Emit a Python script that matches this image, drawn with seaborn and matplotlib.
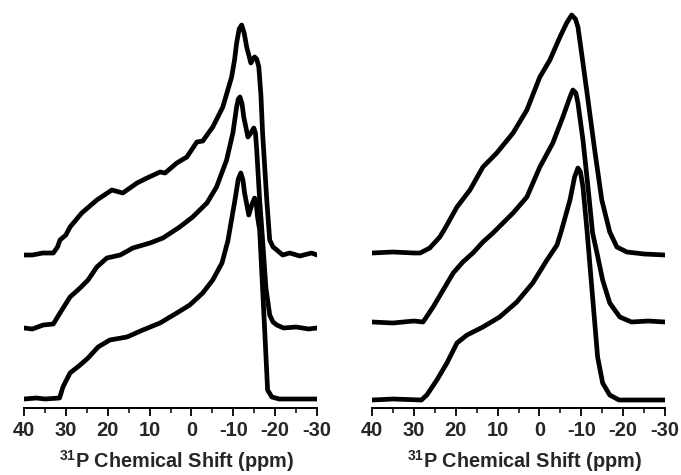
import numpy as np
import pandas as pd
import matplotlib
matplotlib.use("Agg")
import matplotlib.pyplot as plt
import seaborn as sns
from matplotlib.ticker import MultipleLocator

sns.set_theme(style="white")
plt.rcParams['font.family'] = ['Liberation Sans', 'DejaVu Sans']
plt.rcParams['mathtext.fontset'] = 'custom'
plt.rcParams['mathtext.rm'] = 'Liberation Sans:bold'
plt.rcParams['mathtext.bf'] = 'Liberation Sans:bold'

# ---- Left panel spectra (ppm, intensity) ----
left_top_ppm = [40, 38, 35.5, 33, 32, 31.4, 30, 29, 26.2, 22.6, 19, 16.4, 13, 10.6, 7.5, 6.3, 3.5, 1.1,
                -1.3, -2.7, -5.1, -7.5, -9.6, -10.3, -10.8, -11.4, -12, -12.6, -13.2, -14.2, -14.7,
                -15.1, -15.6, -16.1, -16.6, -17, -18, -18.7, -19.5,
                -20.4, -21.8, -23.5, -25.9, -28.7, -30]
left_top_int = [0, 0, 2, 2, 8, 15, 20, 28, 42, 55, 65, 62, 72, 77, 83, 82, 92, 98,
                113, 114, 128, 148, 178, 195, 212, 226, 230, 222, 208, 192, 196,
                198, 196, 188, 160, 122, 55, 15, 8,
                5, 0, 2, -1, 2, 0]

left_mid_ppm = [40, 38, 35.4, 33, 31.4, 29, 26.6, 24.7, 22.6, 20.2, 17, 14, 9.9, 6.8, 2.8, -0.3,
                -3.7, -6, -8.4, -9.9, -10.8, -11.2, -11.6, -12.1, -12.5, -13.5, -14.2, -14.9, -15.3,
                -15.6, -16.3, -17, -17.8, -18.7, -19.5, -20.4, -22, -25, -28, -30]
left_mid_int = [0, -1, 3, 4, 15, 31, 40, 48, 61, 70, 73, 80, 85, 90, 101, 111,
                125, 141, 168, 195, 221, 229, 231, 224, 211, 191, 195, 200, 195,
                178, 128, 88, 40, 13, 6, 3, 0, 1, -1, 0]

left_bot_ppm = [40, 37, 35, 31.5, 30.7, 29, 26.6, 24.7, 22.3, 19.5, 15.4, 11.6, 7.5, 3.5, 0.4,
                -2.7, -5.1, -7.3, -8.7, -10.4, -11.2, -11.8, -12.3, -12.7, -13.7, -14.5, -15.1,
                -15.5, -15.8, -16.3, -17.5, -18.2, -19.2, -21, -25, -30]
left_bot_int = [0, 1, 0, 1, 12, 26, 34, 41, 52, 59, 62, 69, 76, 86, 94,
                106, 119, 136, 158, 199, 220, 226, 219, 206, 184, 195, 201,
                195, 182, 169, 69, 9, 2, 0, 0, 0]

# ---- Right panel spectra (ppm, intensity) ----
right_top_ppm = [40, 35, 30, 28.5, 26.2, 23.8, 22.5, 19.7, 16.6, 13.5, 10.2, 6.3, 3, -0.1, -2.5,
                 -4.9, -6.5, -7.7, -8.6, -9.2, -10.4, -11.6, -13.2, -14.9, -16.8, -18.5, -20.9,
                 -25, -30]
right_top_int = [0, 1, 0, 0, 5, 16, 25, 46, 63, 86, 100, 120, 143, 176, 193,
                 216, 230, 238, 234, 226, 190, 153, 103, 53, 21, 6, 1, -1, -2]

right_mid_ppm = [40, 35, 30, 27.8, 25.4, 23, 20.6, 18.3, 15.9, 13.5, 11.1, 6.3, 3, -0.1, -3.2,
                 -5.6, -7.3, -8, -8.7, -9.2, -10.4, -11.6, -12.7, -13.7, -15.1, -16.8, -19.2,
                 -22, -26, -30]
right_mid_int = [0, -1, 1, 0, 15, 32, 49, 60, 69, 80, 89, 109, 125, 155, 179,
                 205, 225, 232, 229, 219, 182, 135, 89, 70, 42, 19, 5, 0, 1, 0]

right_bot_ppm = [40, 35, 28.2, 26.9, 24.5, 22.1, 19.7, 17.3, 13.5, 9.5, 5.4, 1.6, -1.8, -4.2,
                 -5.3, -7.3, -8.4, -9.2, -9.8, -10.4, -11.4, -12.7, -13.9, -15.1, -16.8, -19,
                 -25, -30]
right_bot_int = [0, 1, 0, 5, 20, 37, 57, 65, 73, 83, 98, 117, 140, 155,
                 170, 200, 223, 232, 228, 213, 168, 103, 43, 17, 5, 0, 0, 0]

spectra = {
    "left": [("bottom", left_bot_ppm, left_bot_int),
             ("middle", left_mid_ppm, left_mid_int),
             ("top", left_top_ppm, left_top_int)],
    "right": [("bottom", right_bot_ppm, right_bot_int),
              ("middle", right_mid_ppm, right_mid_int),
              ("top", right_top_ppm, right_top_int)],
}
offsets = {"left": {"bottom": 9, "middle": 80, "top": 153},
           "right": {"bottom": 8, "middle": 86, "top": 155}}

fig = plt.figure(figsize=(6.81, 4.75), dpi=100)
axes = {
    "left": fig.add_axes([24 / 681, 1 - 408 / 475, 293 / 681, 398 / 475]),
    "right": fig.add_axes([372 / 681, 1 - 408 / 475, 293 / 681, 398 / 475]),
}

for panel, ax in axes.items():
    for name, ppm, inten in spectra[panel]:
        df = pd.DataFrame({"ppm": ppm, "y": np.array(inten, float) + offsets[panel][name]})
        sns.lineplot(data=df, x="ppm", y="y", ax=ax, color="black", lw=3.4,
                     sort=False, estimator=None, solid_joinstyle="round",
                     solid_capstyle="round")
    ax.set_xlim(40, -30)
    ax.set_ylim(0, 398)
    for s in ["top", "left", "right"]:
        ax.spines[s].set_visible(False)
    ax.spines["bottom"].set_linewidth(1.4)
    ax.spines["bottom"].set_color("black")
    ax.set_yticks([])
    ax.xaxis.set_major_locator(MultipleLocator(10))
    ax.xaxis.set_minor_locator(MultipleLocator(5))
    ax.tick_params(axis="x", which="major", direction="out", length=5.5, width=1.3,
                   color="black", bottom=True, pad=4)
    ax.tick_params(axis="x", which="minor", direction="out", length=3.3, width=1.1,
                   color="black", bottom=True)
    ax.set_xticks([40, 30, 20, 10, 0, -10, -20, -30])
    ax.set_xticklabels(["40", "30", "20", "10", "0", "-10", "-20", "-30"],
                       fontweight="bold", fontsize=14.5)
    ax.set_xlabel(r"$^{\mathbf{31}}$P Chemical Shift (ppm)", fontweight="bold",
                  fontsize=14.3, labelpad=5)
    ax.xaxis.set_label_coords(0.52, -0.1)
    ax.xaxis.label.set_va("top")
    ax.set_ylabel("")
    ax.patch.set_alpha(0)

fig.savefig("out.png", dpi=100)
